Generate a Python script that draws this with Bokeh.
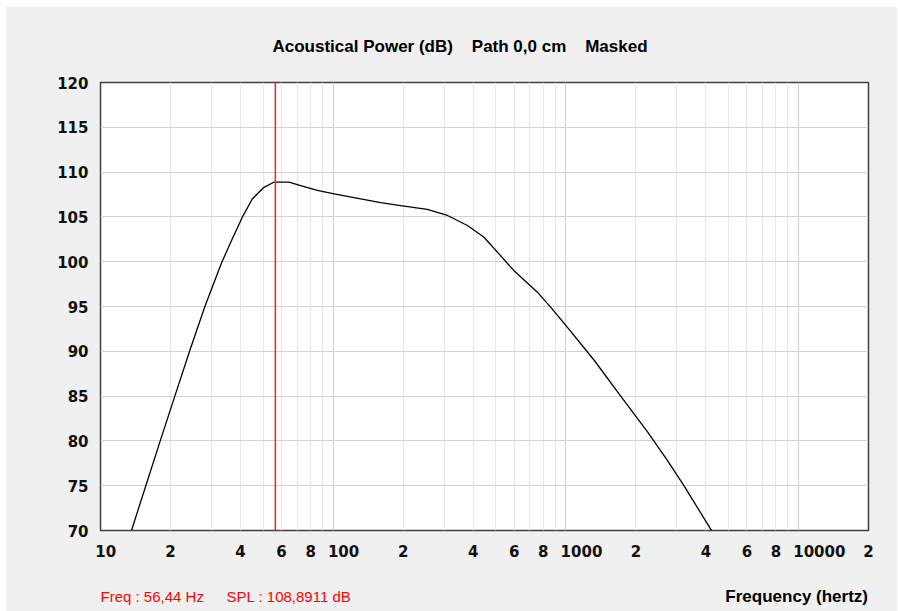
from bokeh.plotting import figure
from bokeh.models import FixedTicker, Span, Range1d
from bokeh.layouts import column
from bokeh.core.properties import value
from bokeh.embed import file_html
from bokeh.resources import INLINE

# ---- data ----
freq_hz = [13.59, 15.66, 18.06, 20.87, 24.14, 28.10, 33.05, 36.86, 40.7, 44.9, 50.4, 55.6,
           64.6, 72.5, 85.5, 101, 131.3, 160, 195, 254, 310, 377.7, 445, 516, 599, 755, 862,
           1000, 1324, 1725, 2245, 2737, 3228, 4207, 4500]
spl_db = [70.0, 75.0, 80.0, 85.0, 90.0, 95.0, 99.8, 102.56, 104.97, 107.0, 108.3, 108.87,
          108.87, 108.5, 107.95, 107.58, 107.0, 106.6, 106.27, 105.83, 105.16, 104.04, 102.73,
          100.88, 99.0, 96.6, 94.9, 92.9, 89.0, 84.96, 81.0, 77.8, 74.95, 70.1, 68.3]

cursor_freq = 56.44
cursor_text = "Freq : 56,44 Hz"
spl_text = "SPL : 108,8911 dB"
title_text = "Acoustical Power (dB)\u00a0\u00a0\u00a0 Path 0,0 cm\u00a0\u00a0\u00a0 Masked"
x_title = "Frequency (hertz)"

y_ticks = [70, 75, 80, 85, 90, 95, 100, 105, 110, 115, 120]
x_tick_values = [10, 20, 40, 60, 80, 100, 200, 400, 600, 800, 1000,
                 2000, 4000, 6000, 8000, 10000, 20000]
x_tick_labels = ["10", "2", "4", "6", "8", "100", "2", "4", "6", "8", "1000",
                 "2", "4", "6", "8", "10000", "2"]
x_major_grid = [100, 1000, 10000]
x_minor_grid = [m * d for d in (10, 100, 1000) for m in range(2, 10)] + [20000]

PANEL_BG = "#f0f0f0"
FIG_W = 891
FRAME_LEFT, FRAME_RIGHT = 100, 868   # page pixels of the plot frame

# ---- main chart ----
p = figure(width=FIG_W, height=568, x_axis_type="log",
           x_range=(10, 20000), y_range=(70, 120),
           output_backend="svg", toolbar_location=None,
           min_border_left=94, min_border_right=29,
           min_border_top=75, min_border_bottom=45)
p.background_fill_color = "white"
p.border_fill_color = PANEL_BG
p.outline_line_color = "#404040"
p.outline_line_width = 1.5

p.title.text = title_text
p.title.align = "left"
p.title.offset = 172
p.title.text_font = "Liberation Sans"
p.title.text_font_size = "17px"
p.title.text_font_style = "bold"
p.title.text_color = "black"
p.title.standoff = 54

# axes
tick_font = "DejaVu Sans"
p.xaxis.ticker = FixedTicker(ticks=x_tick_values)
p.xaxis.major_label_overrides = {
    v: ("\u2007" * (len(l) - 1) + l if l.startswith("1") else l)
    for v, l in zip(x_tick_values, x_tick_labels)
}
p.yaxis.ticker = FixedTicker(ticks=y_ticks)
for ax in (p.xaxis[0], p.yaxis[0]):
    ax.axis_line_color = None
    ax.major_tick_line_color = None
    ax.minor_tick_line_color = None
    ax.major_tick_out = 0
    ax.major_tick_in = 0
    ax.major_label_text_font = tick_font
    ax.major_label_text_font_size = "15px"
    ax.major_label_text_font_style = "bold"
    ax.major_label_text_color = "#111111"
p.xaxis.major_label_standoff = 12
p.yaxis.major_label_standoff = 12

# grids
p.ygrid.ticker = FixedTicker(ticks=y_ticks)
p.ygrid.grid_line_color = "#d2d2d2"
p.ygrid.grid_line_width = 1.2
p.xgrid.ticker = FixedTicker(ticks=x_major_grid, minor_ticks=x_minor_grid)
p.xgrid.grid_line_color = "#d2d2d2"
p.xgrid.grid_line_width = 1.2
p.xgrid.minor_grid_line_color = "#e8e8e8"
p.xgrid.minor_grid_line_width = 1.2

# curve
p.line(freq_hz, spl_db, line_color="black", line_width=1.3)

# cursor
p.add_layout(Span(location=cursor_freq, dimension="height",
                  line_color="#ff2020", line_width=1.5))

# ---- bottom status strip (its frame is aligned with the chart frame) ----
STRIP_H = 36
s = figure(width=FIG_W, height=STRIP_H, output_backend="svg", toolbar_location=None,
           x_range=Range1d(FRAME_LEFT, FRAME_RIGHT), y_range=Range1d(0, STRIP_H),
           x_axis_location=None, y_axis_location=None,
           min_border_left=94, min_border_right=29, min_border_top=0, min_border_bottom=0)
s.background_fill_color = PANEL_BG
s.border_fill_color = PANEL_BG
s.outline_line_color = None
s.grid.visible = False

row_y = STRIP_H - 21
s.text(x=[FRAME_LEFT, 226], y=[row_y, row_y], text=[cursor_text, spl_text],
       text_color="#ff0000", text_font=value("Liberation Sans"),
       text_font_size="15px", text_baseline="middle", text_align="left")
s.text(x=[FRAME_RIGHT - 0.5], y=[row_y], text=[x_title],
       text_color="black", text_font=value("Liberation Sans"),
       text_font_size="17px", text_font_style="bold",
       text_baseline="middle", text_align="right")

layout = column(p, s, spacing=0, margin=(7, 0, 0, 6),
                styles={"background-color": PANEL_BG})
open("out.html", "w").write(file_html(layout, INLINE))
